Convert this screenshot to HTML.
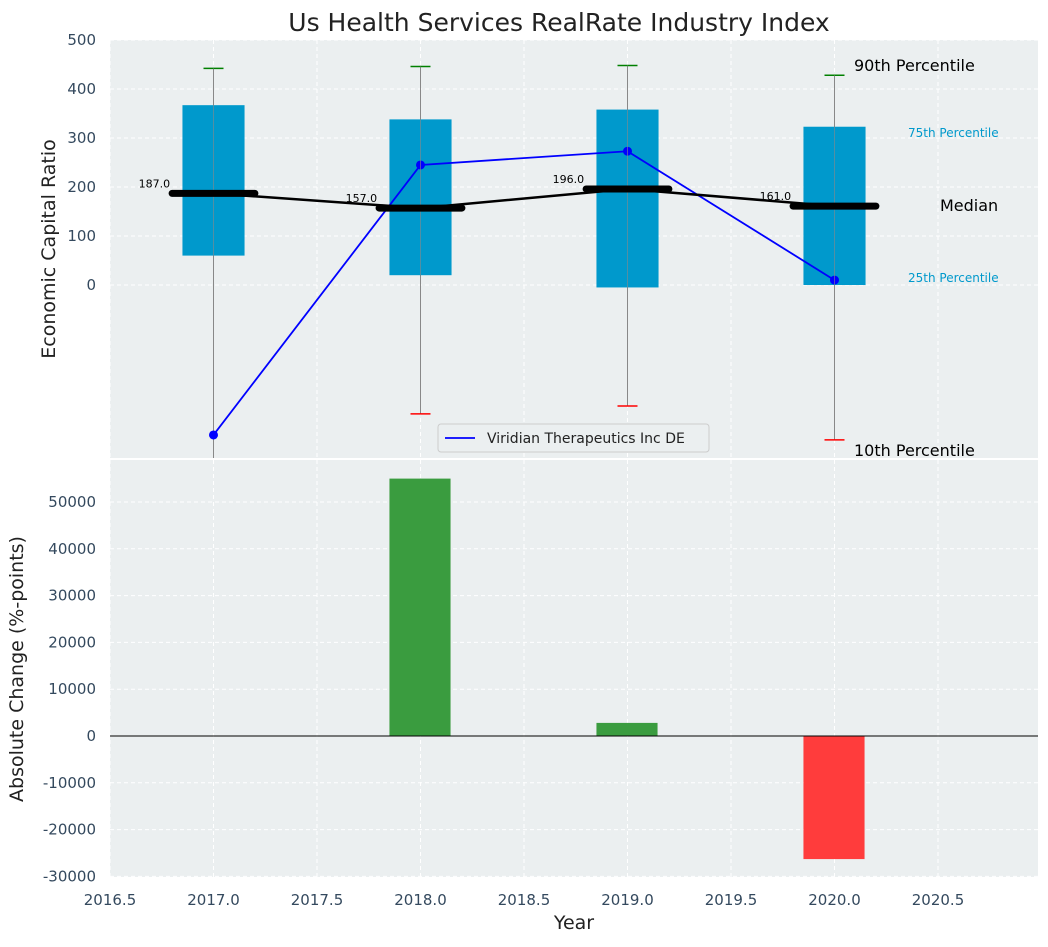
<!DOCTYPE html>
<html><head><meta charset="utf-8"><style>
body{margin:0;background:#fff;}
svg text{font-family:"DejaVu Sans","Liberation Sans",sans-serif;}
</style></head><body>
<svg id="chart" width="1048" height="942" xmlns="http://www.w3.org/2000/svg"></svg>
<script>
const years=[2017,2018,2019,2020];
const p10=[-400,-263,-247,-316];
const p25=[60,20,-5,0];
const medians=[187,157,196,161];
const p75=[367,338,358,323];
const p90=[442,446,448,428];
const company=[-306,245,273,10];
const changes=[0,55000,2800,-26300];
const xTicks=[2016.5,2017,2017.5,2018,2018.5,2019,2019.5,2020,2020.5];
const yTopTicks=[0,100,200,300,400,500];
const yBotTicks=[-30000,-20000,-10000,0,10000,20000,30000,40000,50000];

const NS="http://www.w3.org/2000/svg";
const svg=document.getElementById('chart');
function el(t,a,txt){const e=document.createElementNS(NS,t);for(const k in a)e.setAttribute(k,a[k]);if(txt!==undefined)e.textContent=txt;svg.appendChild(e);return e;}
const L=110,R=1038;
const X=v=>L+(v-2016.5)*207;
const T0=40,T1=458,B0=460,B1=877;
const YT=v=>285-v*0.49;
const YB=v=>736-v*0.00468;
const TC='#34495e';

let e;
e=el('rect',{x:L,y:T0,width:R-L,height:T1-T0,fill:'#ebeff0'});

e=el('rect',{x:L,y:B0,width:R-L,height:B1-B0,fill:'#ebeff0'});

xTicks.forEach(t=>{const x=X(t);
 el('line',{x1:x,x2:x,y1:T0,y2:T1,stroke:'#fff','stroke-dasharray':'4,3','stroke-width':1});
 el('line',{x1:x,x2:x,y1:B0,y2:B1,stroke:'#fff','stroke-dasharray':'4,3','stroke-width':1});
 e=el('text',{x:x,y:905,'font-size':15,fill:TC,'text-anchor':'middle'},t.toFixed(1));
 
});
yTopTicks.forEach(t=>{const y=YT(t);
 el('line',{x1:L,x2:R,y1:y,y2:y,stroke:'#fff','stroke-dasharray':'4,3'});
 e=el('text',{x:96,y:y+5,'font-size':15,fill:TC,'text-anchor':'end'},t);
 
});
yBotTicks.forEach(t=>{const y=YB(t);
 el('line',{x1:L,x2:R,y1:y,y2:y,stroke:'#fff','stroke-dasharray':'4,3'});
 e=el('text',{x:96,y:y+5,'font-size':15,fill:TC,'text-anchor':'end'},t);
 
});
const defs=el('defs',{});
const cp=document.createElementNS(NS,'clipPath');cp.setAttribute('id','ct');defs.appendChild(cp);
const cr=document.createElementNS(NS,'rect');cr.setAttribute('x',L);cr.setAttribute('y',T0);cr.setAttribute('width',R-L);cr.setAttribute('height',T1-T0);cp.appendChild(cr);
const g=el('g',{'clip-path':'url(#ct)'});
function gel(t,a,txt){const e=el(t,a,txt);g.appendChild(e);return e;}
years.forEach((yr,i)=>{const x=X(yr);
 e=gel('line',{x1:x,x2:x,y1:YT(p90[i]),y2:YT(p10[i]),stroke:'#888','stroke-width':1});
 
 e=gel('rect',{x:X(yr-0.15),y:YT(p75[i]),width:0.3*207,height:YT(p25[i])-YT(p75[i]),fill:'#0099cc'});
 
 el('line',{x1:x,x2:x,y1:YT(p90[i]),y2:YT(p25[i]),stroke:'#888','stroke-width':1,'stroke-opacity':0.6});
 e=gel('line',{x1:x-10,x2:x+10,y1:YT(p90[i]),y2:YT(p90[i]),stroke:'green','stroke-width':1.5});
 
 e=gel('line',{x1:x-10,x2:x+10,y1:YT(p10[i]),y2:YT(p10[i]),stroke:'red','stroke-width':1.5});
 
});
e=el('polyline',{points:years.map((y,i)=>X(y)+','+YT(medians[i])).join(' '),fill:'none',stroke:'#000','stroke-width':2.5});

years.forEach((yr,i)=>{
 e=el('line',{x1:X(yr-0.2),x2:X(yr+0.2),y1:YT(medians[i]),y2:YT(medians[i]),stroke:'#000','stroke-width':7,'stroke-linecap':'round'});
 
 e=el('text',{x:X(yr-0.2)-2,y:YT(medians[i])-6,'font-size':11,'text-anchor':'end',fill:'#000'},medians[i].toFixed(1));
 
});
e=gel('polyline',{points:years.map((y,i)=>X(y)+','+YT(company[i])).join(' '),fill:'none',stroke:'blue','stroke-width':1.8});

years.forEach((yr,i)=>{e=gel('circle',{cx:X(yr),cy:YT(company[i]),r:4.5,fill:'blue'});
 });
[[854,71,'90th Percentile',16,'#000'],[908,137,'75th Percentile',12,'#0099cc'],[940,211,'Median',16,'#000'],[908,282,'25th Percentile',12,'#0099cc'],[854,456,'10th Percentile',16,'#000']].forEach(a=>{
 e=el('text',{x:a[0],y:a[1],'font-size':a[3],fill:a[4]},a[2]);
 
});
e=el('rect',{x:438,y:424,width:271,height:28,fill:'#ebeff0',stroke:'#ccc',rx:3});

el('line',{x1:445,x2:475,y1:438,y2:438,stroke:'blue','stroke-width':1.8});
e=el('text',{x:487,y:443,'font-size':14,fill:'#222'},'Viridian Therapeutics Inc DE');

years.forEach((yr,i)=>{const v=changes[i];if(v===0)return;
 e=el('rect',{x:X(yr-0.15),y:Math.min(YB(v),YB(0)),width:0.3*207-1,height:Math.abs(YB(v)-YB(0)),fill:v>=0?'#3a9c3f':'#ff3c3c'});
 
});
el('line',{x1:L,x2:R,y1:YB(0),y2:YB(0),stroke:'#000','stroke-width':1});
e=el('text',{x:559,y:31,'font-size':25,'text-anchor':'middle',fill:'#222'},'Us Health Services RealRate Industry Index');

e=el('text',{x:574,y:929,'font-size':19,'text-anchor':'middle',fill:'#222'},'Year');

e=el('text',{x:0,y:0,'font-size':19,'text-anchor':'middle',fill:'#222',transform:'translate(55,249) rotate(-90)'},'Economic Capital Ratio');

e=el('text',{x:0,y:0,'font-size':19,'text-anchor':'middle',fill:'#222',transform:'translate(23,669) rotate(-90)'},'Absolute Change (%-points)');

</script>
</body></html>
